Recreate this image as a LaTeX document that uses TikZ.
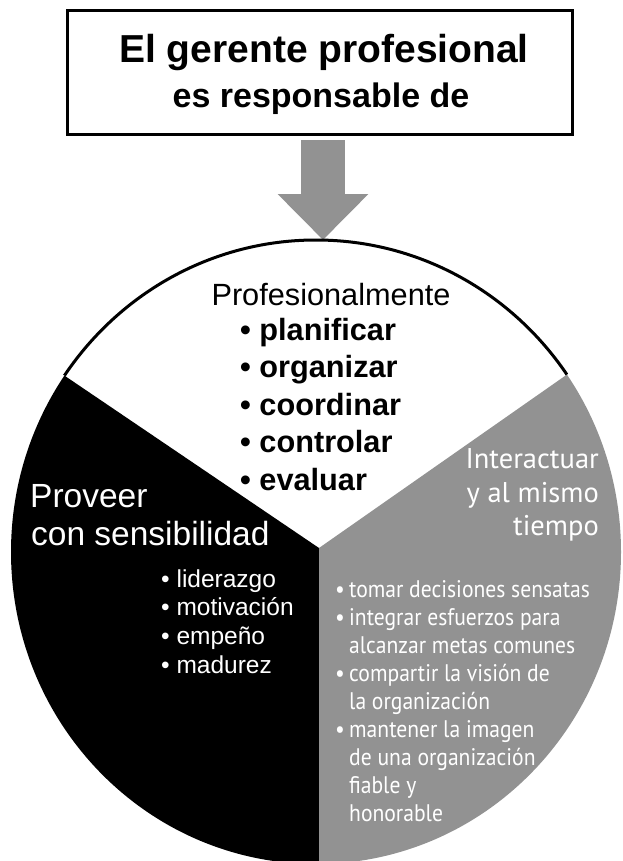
\documentclass[tikz,border=0pt]{standalone}
\usepackage{fontspec}
\setmainfont{Liberation Sans}
\newfontfamily\myriad{PT Sans}
\newfontfamily\myriadn[FakeStretch=0.9]{PT Sans}
\usetikzlibrary{arrows.meta}

\definecolor{piegray}{RGB}{146,146,146}
\newcommand{\gbul}{\makebox[14pt][l]{\textbullet}}
\newcommand{\gsp}{\hspace*{14pt}}

\begin{document}
\begin{tikzpicture}[x=1pt,y=-1pt,
    titlebox/.style={draw,line width=3pt,minimum width=505pt,minimum height=124pt,inner sep=0pt},
    bigarrow/.style={piegray,line width=44pt,shorten <=4pt,-{Triangle[width=88pt,length=46pt]}},
    txt/.style={inner sep=0pt,anchor=base west},
    skill/.style={txt,font={\bfseries\fontsize{30.7}{36}\selectfont}},
    virtue/.style={txt,text=white,font={\fontsize{24.5}{29}\selectfont}},
    task/.style={txt,text=white,font={\myriadn\fontsize{24}{28}\selectfont}}]

  \clip (0,0) rectangle (623,861);

  % title and arrow
  \node[titlebox] (box) at (320,73) {};
  \node[txt,anchor=base,font={\bfseries\fontsize{39}{44}\selectfont}] (t1) at (324,63) {El gerente profesional};
  \node[txt,anchor=base,font={\bfseries\fontsize{34}{40}\selectfont}] (t2) at (321,108) {es responsable de};

  \coordinate (top) at (323,240);
  \coordinate (c) at (319,548);
  \draw[bigarrow] (box.south -| top) -- (top);

  % the three sectors
  \begin{scope}
    \clip (316,552) ellipse [x radius=305, y radius=312];
    \fill[black] (c) -- (-59,292) -- (-59,900) -- (319,900) -- cycle;
    \fill[piegray] (c) -- (695,285) -- (695,900) -- (319,900) -- cycle;
  \end{scope}
  \begin{scope}
    \clip (c) -- (-59,292) -- (-59,0) -- (695,0) -- (695,285) -- cycle;
    \draw[line width=3pt] (316,552) ellipse [x radius=305, y radius=312];
  \end{scope}

  % white sector
  \node[txt,anchor=base,font={\fontsize{30.7}{36}\selectfont}] (prof) at (331,305) {Profesionalmente};
  \foreach \w [count=\i] in {planificar,organizar,coordinar,controlar,evaluar}
    \node[skill] (skill\i) at (240,{340+37.5*(\i-1)}) {\textbullet\ \w};

  % black sector
  \node[txt,text=white,font={\fontsize{33.5}{38}\selectfont}] (prov1) at (30,507) {Proveer};
  \node[txt,text=white,font={\fontsize{33.5}{38}\selectfont}] (prov2) at (31,545) {con sensibilidad};
  \foreach \w [count=\i] in {liderazgo,motivación,empeño,madurez}
    \node[virtue] (virtue\i) at (161,{587+28.7*(\i-1)}) {\textbullet\ \w};

  % gray sector
  \node[txt,anchor=base east,text=white,font={\myriad\fontsize{28.5}{32}\selectfont}] (int1) at (599,468) {Interactuar};
  \node[txt,anchor=base east,text=white,font={\myriad\fontsize{28.5}{32}\selectfont}] (int2) at (599,502) {y al mismo};
  \node[txt,anchor=base east,text=white,font={\myriad\fontsize{28.5}{32}\selectfont}] (int3) at (599,535) {tiempo};
  \foreach \w [count=\i] in {{\gbul tomar decisiones sensatas},{\gbul integrar esfuerzos para},
      {\gsp alcanzar metas comunes},{\gbul compartir la visión de},{\gsp la organización},
      {\gbul mantener la imagen},{\gsp de una organización},{\gsp fiable y},{\gsp honorable}}
    \node[task] (task\i) at (335,{597+28.1*(\i-1)}) {\w};
\end{tikzpicture}
\end{document}
